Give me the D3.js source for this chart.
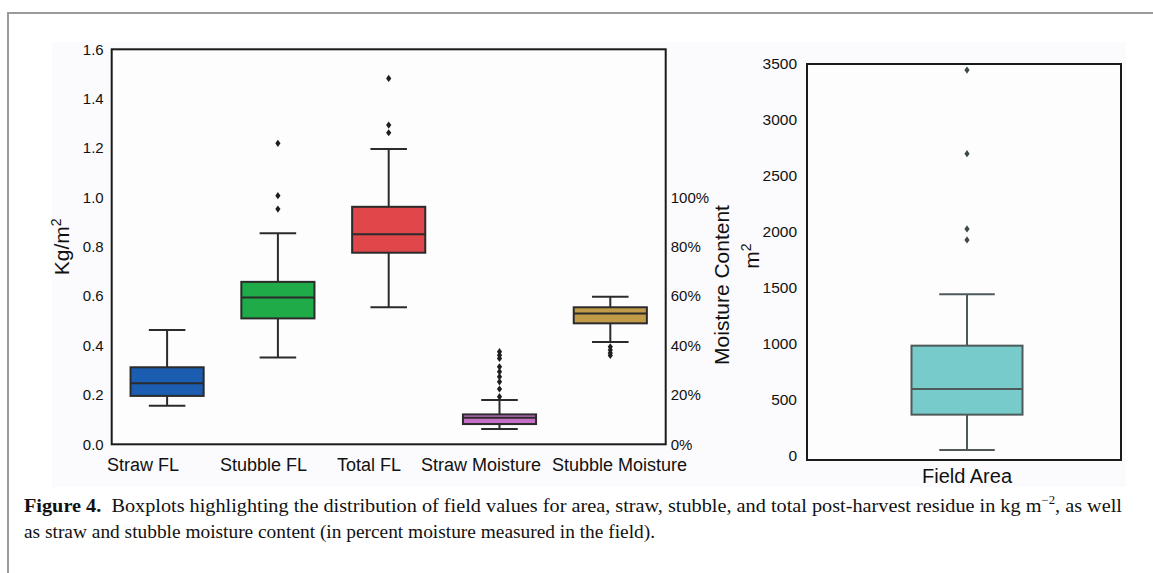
<!DOCTYPE html>
<html>
<head>
<meta charset="utf-8">
<script src="https://cdn.jsdelivr.net/npm/d3@7"></script>
<style>
  body { margin: 0; background: #fff; }
  svg { display: block; }
</style>
</head>
<body>
<svg id="chart" width="1153" height="573"></svg>
<script>
// categories + five-number summaries
const categories = ['Straw FL', 'Stubble FL', 'Total FL', 'Straw Moisture', 'Stubble Moisture'];
const whiskerLow = [0.156, 0.352, 0.555, 0.062, 0.414];
const q1 = [0.196, 0.510, 0.776, 0.082, 0.490];
const median = [0.247, 0.595, 0.851, 0.108, 0.530];
const q3 = [0.312, 0.658, 0.962, 0.121, 0.555];
const whiskerHigh = [0.463, 0.855, 1.196, 0.179, 0.598];
const outliers = [
    [],
    [0.953, 1.007, 1.219],
    [1.262, 1.293, 1.482],
    [0.193, 0.224, 0.253, 0.274, 0.294, 0.314, 0.348, 0.361, 0.375],
    [0.360, 0.370, 0.382, 0.395]
];
const boxColors = ['#1b5db0', '#1eab48', '#df474b', '#c66fc6', '#c29b48'];
const leftTicks = [0, 0.2, 0.4, 0.6, 0.8, 1.0, 1.2, 1.4, 1.6];
const pctTicks = [0, 0.2, 0.4, 0.6, 0.8, 1.0];

const areaCategories = ['Field Area'];
const areaStats = { low: 54, q1: 369, median: 598, q3: 985, high: 1444 };
const areaOutliers = [1929, 2027, 2699, 3446];
const areaTicks = [0, 500, 1000, 1500, 2000, 2500, 3000, 3500];

// the category labels in the figure are not centred under the boxes,
// they sit left-aligned at these x positions
const labelLeftEdges = [107, 220, 337, 421, 552];

const svg = d3.select('#chart');
const lineColor = '#2b2b2b';

// outer figure frame + panel background
svg.append('rect')
    .attr('x', 8).attr('y', 13)
    .attr('width', 1200).attr('height', 600)
    .attr('fill', '#fff')
    .attr('stroke', '#9a9a9a')
    .attr('stroke-width', 2);
svg.append('rect')
    .attr('x', 52).attr('y', 42)
    .attr('width', 1074).attr('height', 445)
    .attr('fill', '#fbfbfd');

function diamond(g, cx, cy, color) {
    g.append('path')
        .attr('d', `M${cx},${cy - 3.6}L${cx + 2.6},${cy}L${cx},${cy + 3.6}L${cx - 2.6},${cy}Z`)
        .attr('fill', color);
}

function drawBox(g, cx, w, y, s, fill, stroke) {
    g.append('line')
        .attr('x1', cx).attr('x2', cx)
        .attr('y1', y(s.low)).attr('y2', y(s.q1))
        .attr('stroke', stroke).attr('stroke-width', 2);
    g.append('line')
        .attr('x1', cx).attr('x2', cx)
        .attr('y1', y(s.q3)).attr('y2', y(s.high))
        .attr('stroke', stroke).attr('stroke-width', 2);
    [s.low, s.high].forEach(v => {
        g.append('line')
            .attr('x1', cx - w / 4).attr('x2', cx + w / 4)
            .attr('y1', y(v)).attr('y2', y(v))
            .attr('stroke', stroke).attr('stroke-width', 2);
    });
    g.append('rect')
        .attr('x', cx - w / 2).attr('width', w)
        .attr('y', y(s.q3)).attr('height', y(s.q1) - y(s.q3))
        .attr('fill', fill)
        .attr('stroke', stroke).attr('stroke-width', 2);
    g.append('line')
        .attr('x1', cx - w / 2).attr('x2', cx + w / 2)
        .attr('y1', y(s.median)).attr('y2', y(s.median))
        .attr('stroke', stroke).attr('stroke-width', 2);
}

// ---------- left panel ----------
const left = { x0: 111.7, x1: 665.7, top: 49.3, bottom: 444.3 };
const x = d3.scaleBand().domain(categories).range([left.x0, left.x1]);
const y = d3.scaleLinear().domain([0, 1.6]).range([left.bottom, left.top]);
const yPct = d3.scaleLinear().domain([0, 1]).range([left.bottom, y(1)]);

const gLeft = svg.append('g');
gLeft.append('rect')
    .attr('x', left.x0).attr('y', left.top)
    .attr('width', left.x1 - left.x0).attr('height', left.bottom - left.top)
    .attr('fill', '#fdfdfe');

const boxW = x.bandwidth() * 0.66;
categories.forEach((c, i) => {
    const cx = x(c) + x.bandwidth() / 2;
    drawBox(gLeft, cx, boxW, y, {
        low: whiskerLow[i], q1: q1[i], median: median[i], q3: q3[i], high: whiskerHigh[i]
    }, boxColors[i], lineColor);
    outliers[i].forEach(v => diamond(gLeft, cx, y(v), '#1e1e1e'));
});

gLeft.append('rect')
    .attr('x', left.x0).attr('y', left.top)
    .attr('width', left.x1 - left.x0).attr('height', left.bottom - left.top)
    .attr('fill', 'none')
    .attr('stroke', '#1a1a1a').attr('stroke-width', 2);

const axisFont = 'Liberation Sans, Arial, sans-serif';

const yAxis = gLeft.append('g')
    .attr('transform', `translate(${left.x0},0)`)
    .call(d3.axisLeft(y).tickValues(leftTicks).tickFormat(d3.format('.1f')).tickSize(0).tickPadding(8));
yAxis.select('.domain').remove();
yAxis.selectAll('text').style('font-family', axisFont).style('font-size', '15px').attr('fill', '#111');

const pAxis = gLeft.append('g')
    .attr('transform', `translate(${left.x1},0)`)
    .call(d3.axisRight(yPct).tickValues(pctTicks).tickFormat(d3.format('.0%')).tickSize(0).tickPadding(5));
pAxis.select('.domain').remove();
pAxis.selectAll('text').style('font-family', axisFont).style('font-size', '15px').attr('fill', '#111');

const xAxis = gLeft.append('g')
    .attr('transform', `translate(0,${left.bottom})`)
    .call(d3.axisBottom(x).tickSize(0).tickPadding(14));
xAxis.select('.domain').remove();
xAxis.selectAll('.tick')
    .attr('transform', (d, i) => `translate(${labelLeftEdges[i]},0)`);
xAxis.selectAll('text')
    .attr('text-anchor', 'start')
    .style('font-family', axisFont).style('font-size', '18px').attr('fill', '#111');

const kgLabel = gLeft.append('text')
    .attr('transform', `translate(69,${(left.top + left.bottom) / 2}) rotate(-90)`)
    .attr('text-anchor', 'middle')
    .style('font-family', axisFont).style('font-size', '21px').attr('fill', '#111');
kgLabel.append('tspan').text('Kg/m');
kgLabel.append('tspan').attr('dy', -8).style('font-size', '14px').text('2');

gLeft.append('text')
    .attr('transform', `translate(729,285) rotate(-90)`)
    .attr('text-anchor', 'middle')
    .style('font-family', axisFont).style('font-size', '21px').attr('fill', '#111')
    .text('Moisture Content');

// ---------- right panel ----------
const right = { x0: 807, x1: 1121, top: 64, bottom: 460 };
const x2 = d3.scaleBand().domain(areaCategories).range([right.x0, right.x1]);
const y2 = d3.scaleLinear().domain([-36, 3500]).range([right.bottom, right.top]);

const gRight = svg.append('g');
gRight.append('rect')
    .attr('x', right.x0).attr('y', right.top)
    .attr('width', right.x1 - right.x0).attr('height', right.bottom - right.top)
    .attr('fill', '#fdfdfe');

const cx2 = x2('Field Area') + x2.bandwidth() / 2 + 3;
drawBox(gRight, cx2, 111, y2, areaStats, '#78cbcb', '#4e5a5a');
areaOutliers.forEach(v => diamond(gRight, cx2, y2(v), '#3e4848'));

gRight.append('rect')
    .attr('x', right.x0).attr('y', right.top)
    .attr('width', right.x1 - right.x0).attr('height', right.bottom - right.top)
    .attr('fill', 'none')
    .attr('stroke', '#1a1a1a').attr('stroke-width', 2);

const y2Axis = gRight.append('g')
    .attr('transform', `translate(${right.x0},0)`)
    .call(d3.axisLeft(y2).tickValues(areaTicks).tickFormat(d3.format('d')).tickSize(0).tickPadding(10));
y2Axis.select('.domain').remove();
y2Axis.selectAll('text').style('font-family', axisFont).style('font-size', '15.5px').attr('fill', '#111');

const x2Axis = gRight.append('g')
    .attr('transform', `translate(3,${right.bottom})`)
    .call(d3.axisBottom(x2).tickSize(0).tickPadding(9));
x2Axis.select('.domain').remove();
x2Axis.selectAll('text').style('font-family', axisFont).style('font-size', '20px').attr('fill', '#111');

const m2Label = gRight.append('text')
    .attr('transform', `translate(759,256) rotate(-90)`)
    .attr('text-anchor', 'middle')
    .style('font-family', axisFont).style('font-size', '21px').attr('fill', '#111');
m2Label.append('tspan').text('m');
m2Label.append('tspan').attr('dy', -8).style('font-size', '14px').text('2');

// ---------- caption ----------
const serif = 'Liberation Serif, Times New Roman, serif';
const cap1 = svg.append('text')
    .attr('x', 24).attr('y', 512)
    .attr('textLength', 1098).attr('lengthAdjust', 'spacingAndGlyphs')
    .style('font-family', serif).style('font-size', '19px').attr('fill', '#111');
cap1.append('tspan').style('font-weight', 'bold').text('Figure 4.');
cap1.append('tspan').text('\u00a0 Boxplots highlighting the distribution of field values for area, straw, stubble, and total post-harvest residue in kg m');
cap1.append('tspan').attr('dy', -8).style('font-size', '12px').text('\u22122');
cap1.append('tspan').attr('dy', 8).text(', as well');

svg.append('text')
    .attr('x', 24).attr('y', 538)
    .attr('textLength', 631).attr('lengthAdjust', 'spacingAndGlyphs')
    .style('font-family', serif).style('font-size', '19px').attr('fill', '#111')
    .text('as straw and stubble moisture content (in percent moisture measured in the field).');
</script>
</body>
</html>
